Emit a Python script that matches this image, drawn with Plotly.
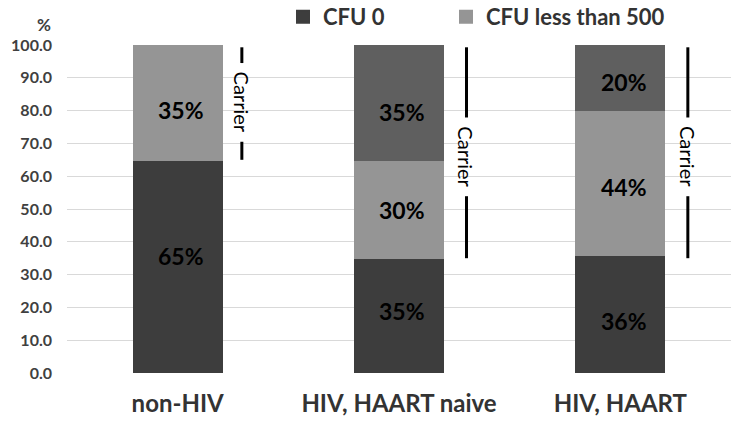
import plotly.graph_objects as go

categories = ["non-HIV", "HIV, HAART naive", "HIV, HAART"]
cfu0 = [65, 35, 36]
cfu_lt500 = [35, 30, 44]
cfu_other = [0, 35, 20]
y_ticks = [0, 10, 20, 30, 40, 50, 60, 70, 80, 90, 100]
carrier_bottom = [65, 35, 35]

# label placements (layout only)
label_y_cfu0 = [35.7, 19, 16]
label_y_lt500 = [80.2, 49.7, 56.7]
label_y_other = [None, 79.6, 88.7]

FONT = "Lato"
xs = list(range(len(categories)))
PW, PH, L, T = 664, 328, 67, 45
C0, C1, C2 = "#3d3d3d", "#959595", "#5f5f5f"

def lw(vals):
    return [1.5 if v else 0 for v in vals]

fig = go.Figure()
fig.add_bar(x=xs, y=cfu0, name="CFU 0", marker=dict(color=C0, line=dict(color=C0, width=lw(cfu0))),
            width=0.4, legend="legend")
fig.add_bar(x=xs, y=cfu_lt500, name="CFU less than 500",
            marker=dict(color=C1, line=dict(color=C1, width=lw(cfu_lt500))),
            width=0.4, legend="legend2")
fig.add_bar(x=xs, y=cfu_other, name="CFU 500 or more",
            marker=dict(color=C2, line=dict(color=C2, width=lw(cfu_other))),
            width=0.4, showlegend=False)

ann = []
def add_labels(vals, ys):
    for i, (v, yy) in enumerate(zip(vals, ys)):
        if v and yy is not None:
            ann.append(dict(x=i + 0.015, y=yy, xref="x", yref="y", text=f"{v}%",
                            showarrow=False, font=dict(family=FONT, size=23, color="#000000", weight="bold")))
add_labels(cfu0, label_y_cfu0)
add_labels(cfu_lt500, label_y_lt500)
add_labels(cfu_other, label_y_other)

shapes = []
for i, bot in enumerate(carrier_bottom):
    xl = i + (0.29 if i == 0 else 0.305)
    mid = (100 + bot) / 2 - (0 if bot > 50 else 1.6)
    gap = 12
    shapes.append(dict(type="line", xref="x", yref="y", x0=xl, x1=xl, y0=99.3, y1=mid + gap,
                       line=dict(color="black", width=3)))
    shapes.append(dict(type="line", xref="x", yref="y", x0=xl, x1=xl, y0=mid - gap, y1=bot,
                       line=dict(color="black", width=3)))
    ann.append(dict(x=xl, y=mid, xref="x", yref="y", text="Carrier", textangle=90,
                    showarrow=False, font=dict(family=FONT, size=20, color="#000000")))

ann.append(dict(xref="paper", yref="paper", x=(35 - L) / PW, y=1 + (T - 12) / PH, text="%",
                showarrow=False, font=dict(family=FONT, size=17, color="#404040", weight="bold")))

leg_common = dict(orientation="h", xanchor="left", yanchor="middle", y=1 + (T - 17) / PH,
                  font=dict(family=FONT, size=22, color="#333333", weight="bold"),
                  itemsizing="constant", bgcolor="rgba(0,0,0,0)")

fig.update_layout(
    barmode="stack",
    width=731, height=423,
    margin=dict(l=L, r=0, t=T, b=50, autoexpand=False),
    paper_bgcolor="white", plot_bgcolor="white",
    font=dict(family=FONT, color="#404040"),
    shapes=shapes,
    annotations=ann,
    legend=dict(x=(283 - L) / PW, **leg_common),
    legend2=dict(x=(446 - L) / PW, **leg_common),
    xaxis=dict(range=[-0.5, 2.5], tickvals=xs, ticktext=categories, showgrid=False,
               zeroline=False, showline=False, ticks="", automargin=False,
               tickfont=dict(family=FONT, size=24, color="#333333", weight="bold"),
               ticklabelstandoff=14),
    yaxis=dict(range=[0, 100], tickvals=y_ticks, ticktext=[f"{v:.1f}" for v in y_ticks],
               showgrid=True, gridcolor="#d9d9d9", gridwidth=1, zeroline=False, showline=False,
               ticks="", automargin=False,
               tickfont=dict(family=FONT, size=16, color="#404040", weight="bold"),
               ticklabelstandoff=14),
)

fig.write_html("out.html", post_script="document.body.style.margin='0';",
               config={"displayModeBar": False})
